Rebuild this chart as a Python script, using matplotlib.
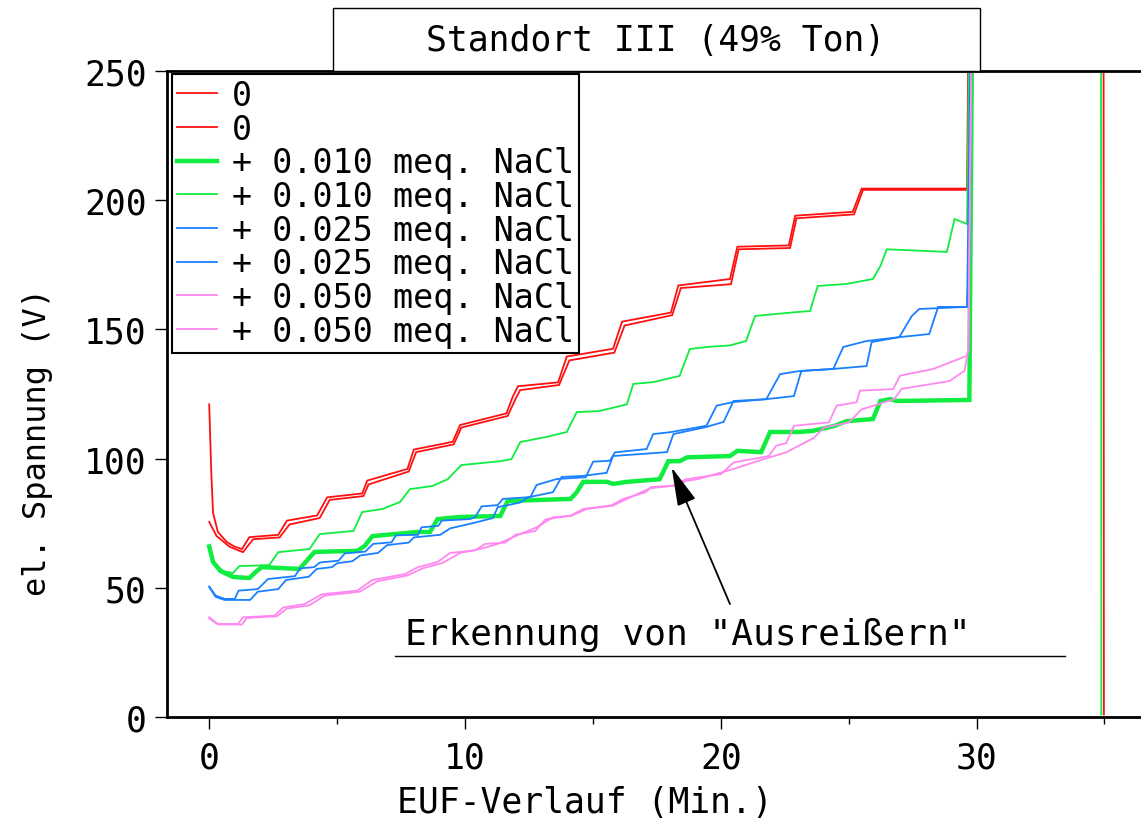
import matplotlib
matplotlib.use("Agg")
import matplotlib.pyplot as plt
from matplotlib.patches import Rectangle
from matplotlib.ticker import MultipleLocator, FixedLocator

plt.rcParams['font.family'] = ['DejaVu Sans Mono', 'DejaVu Sans']

# ---- data: EUF voltage traces (time in min, voltage in V) ----
red_a_t = [0, 0.08, 0.15, 0.34, 0.69, 0.98, 1.28, 1.57, 2.70, 3.04, 4.22, 4.61, 5.98, 6.18,
           7.75, 8.0, 9.52, 9.81, 11.62, 11.87, 12.07, 13.64, 13.98, 15.79, 16.14, 18.05,
           18.34, 20.36, 20.65, 22.66, 22.91, 25.16, 25.51, 29.63, 29.80, 34.96, 34.98]
red_a_v = [121, 95, 79, 71.6, 67.7, 66, 65, 69.6, 70.5, 76, 78, 85, 86.5, 91.5,
           96, 103.5, 106.5, 113, 117.5, 124, 128, 129.5, 139.5, 142.5, 153, 156.5,
           167, 169.5, 182, 182.5, 194, 195.5, 204.5, 204.5, 400, 400, 1]

red_b_t = [0, 0.29, 0.81, 1.32, 1.72, 2.75, 3.14, 4.32, 4.71, 6.03, 6.23, 7.80, 8.09, 9.56,
           9.86, 11.67, 11.97, 12.16, 13.68, 14.08, 15.84, 16.24, 18.10, 18.44, 20.40,
           20.70, 22.71, 22.96, 25.21, 25.56, 29.67, 29.82]
red_b_v = [75.5, 70, 65.8, 63.8, 68.8, 69.5, 74.5, 77, 84, 85.5, 90, 95, 102.5, 105.5,
           112, 116.5, 123, 126.5, 128.5, 138, 141, 151.5, 155.5, 166, 167.5,
           181, 181.5, 193, 194.5, 204, 204, 400]

green_thick_t = [0, 0.15, 0.44, 0.93, 1.57, 1.86, 2.06, 3.53, 4.12, 5.79, 6.08, 6.38, 8.14,
                 8.63, 8.93, 9.81, 11.38, 11.67, 14.13, 14.37, 14.62, 15.55, 15.79, 16.33,
                 17.61, 17.95, 18.39, 18.69, 20.36, 20.65, 21.58, 21.93, 23.05, 23.59,
                 24.43, 24.92, 25.95, 26.24, 26.63, 26.88, 29.72, 29.92]
green_thick_v = [66, 60, 56.5, 54.2, 53.8, 56.5, 58, 57.3, 63.9, 64.3, 66.2, 70, 71.6,
                 71.6, 76.6, 77.4, 77.8, 83.6, 84.4, 87, 91, 91, 90.2, 91,
                 92, 99, 99, 100.5, 101, 103, 102.5, 110.3, 110.3, 110.7,
                 112.6, 114.5, 115.3, 122.3, 123, 122.3, 122.7, 400]

green_thin_t = [0, 0.15, 0.54, 0.93, 1.18, 2.35, 2.70, 3.92, 4.32, 5.64, 5.98, 6.77, 7.46,
                7.85, 8.73, 9.32, 9.86, 11.38, 11.82, 12.16, 13.19, 13.98, 14.37, 15.25,
                16.33, 16.58, 17.36, 18.39, 18.79, 19.47, 20.36, 20.99, 21.34, 22.96,
                23.49, 23.79, 24.92, 25.95, 26.24, 26.49, 28.84, 29.14, 29.63, 29.87,
                34.86, 34.88]
green_thin_v = [66, 60, 56.5, 55.7, 58.4, 58.8, 63.8, 65, 70.8, 72, 79.3, 80.5, 83.2,
                88.2, 89.4, 92, 97.5, 99, 99.8, 106.4, 108.4, 110.3, 118, 118.4,
                121, 128.9, 129.6, 132, 142.4, 143.2, 143.8, 145.5, 155.2, 156.7,
                157.1, 166.8, 167.6, 169.5, 174.5, 181, 180, 192.7, 190.8, 400,
                400, 1]

blue_a_t = [0, 0.25, 0.6, 1.0, 1.15, 1.9, 2.3, 3.35, 3.55, 4.1, 4.33, 5.06, 5.3, 6.1, 6.41,
            7.13, 7.3, 8.17, 8.3, 8.96, 9.09, 10.2, 10.4, 10.65, 11.28, 11.48, 12.56, 12.8,
            13.59, 14.72, 15.01, 15.67, 15.86, 17.10, 17.36, 18.01, 19.44, 19.84, 20.50,
            21.78, 22.32, 23.09, 24.40, 24.79, 25.70, 26.98, 27.47, 27.76, 29.63, 29.72,
            29.95]
blue_a_v = [50.5, 47, 45.7, 45.7, 48.9, 49.5, 53.4, 54.5, 57.5, 58, 59.8, 60.5, 63.3, 64, 67,
            67.6, 70.3, 70.5, 73.4, 74, 76, 76.6, 77.4, 81.5, 82, 84.4, 85.1, 89.8,
            92.1, 92.8, 98.8, 99.2, 102.4, 103.7, 109.5, 110.2, 112.7, 120.5, 121.9,
            123, 132.7, 133.9, 134.7, 143.2, 145.5, 147, 155.2, 157.9, 158.7, 176,
            400]

blue_b_t = [0, 0.25, 0.6, 1.6, 1.9, 2.7, 3.0, 3.9, 4.2, 4.8, 5.0, 5.6, 5.9, 6.6, 6.95, 7.8,
            8.0, 9.03, 9.42, 10.3, 11.09, 11.28, 12.16, 12.46, 13.44, 13.78, 14.62, 15.54,
            15.79, 17.9, 18.15, 19.42, 20.11, 20.5, 21.78, 22.86, 23.15, 24.4, 25.7, 25.9,
            26.98, 28.15, 28.5, 29.63, 29.95]
blue_b_v = [50.3, 46.5, 45.3, 45.3, 48.5, 49.5, 53, 54.3, 57.3, 58, 59.5, 60.3, 62.5, 63.5,
            66.5, 67.5, 69.5, 70.5, 73, 75, 77, 81.2, 83, 85, 87, 92.9, 93.3, 94.5,
            101, 102.5, 109.5, 112.2, 114.2, 122.3, 123, 124.2, 133.9, 134.7, 135.8, 145.1,
            147, 148.2, 158.7, 158.7, 400]

pink_a_t = [0, 0.34, 1.13, 1.32, 2.55, 2.89, 3.73, 4.22, 4.41, 5.79, 6.38, 7.65, 8.14, 8.93,
            9.42, 10.4, 10.79, 11.58, 11.97, 12.75, 13.15, 14.13, 14.62, 15.7, 16.19, 17.07,
            17.27, 18.15, 18.64, 20.01, 20.5, 21.88, 22.17, 22.56, 22.86, 24.23, 24.53,
            25.31, 25.44, 26.74, 27.01, 28.31, 29.63, 29.68, 29.95]
pink_a_v = [38.6, 36, 36, 38.6, 39.2, 42.4, 43.7, 46.5, 47.5, 48.9, 53, 55.3, 57.9, 60,
            63.5, 64.5, 67, 67.5, 70.5, 72, 76.5, 77.9, 80.5, 81.8, 84.4, 87,
            89, 89.5, 92, 94, 98.5, 101, 105, 106, 112.7, 114, 120.5,
            121.8, 126.3, 126.9, 132.1, 134.7, 139.8, 142.4, 400]

pink_b_t = [0, 0.34, 1.28, 1.47, 2.65, 3.04, 3.92, 4.51, 5.89, 6.57, 7.75, 8.34, 9.12, 9.81,
            10.6, 11.28, 12.02, 12.8, 13.45, 14.17, 14.75, 15.79, 16.32, 17.23, 18.15,
            18.67, 19.13, 20.5, 21.58, 22.56, 22.86, 23.64, 24.03, 25.01, 25.5, 26.78,
            27.07, 28.94, 29.53, 29.68, 29.95]
pink_b_v = [38.2, 35.8, 35.8, 38.3, 39, 42, 43.2, 47, 48.5, 52.5, 54.8, 57.5, 59.6, 63.5,
            65, 67, 70.2, 73.4, 77.3, 77.9, 80.5, 81.8, 84.4, 88.5, 89.5,
            91.4, 92.1, 96, 99.5, 102.4, 104, 108, 112, 114, 119, 123,
            127, 130, 134, 142, 400]

labels = ["0", "0",
          "+ 0.010 meq. NaCl", "+ 0.010 meq. NaCl",
          "+ 0.025 meq. NaCl", "+ 0.025 meq. NaCl",
          "+ 0.050 meq. NaCl", "+ 0.050 meq. NaCl"]

x_ticks = [0, 10, 20, 30]
y_ticks = [0, 50, 100, 150, 200, 250]

RED = "#ff1010"
GREEN = "#10ec40"
BLUE = "#1a80ff"
PINK = "#ff88f0"

series = [
    (red_a_t, red_a_v, RED, 1.3),
    (red_b_t, red_b_v, RED, 1.3),
    (green_thick_t, green_thick_v, GREEN, 3.2),
    (green_thin_t, green_thin_v, GREEN, 1.3),
    (blue_a_t, blue_a_v, BLUE, 1.3),
    (blue_b_t, blue_b_v, BLUE, 1.3),
    (pink_a_t, pink_a_v, PINK, 1.3),
    (pink_b_t, pink_b_v, PINK, 1.3),
]

W, H = 1141, 820
fig = plt.figure(figsize=(W / 100, H / 100), dpi=100)
ax = fig.add_axes([167 / W, 1 - 718 / H, 1 - 167 / W, (718 - 72) / H])

handles = []
for (t, v, c, lw), lab in zip(series, labels):
    h, = ax.plot(t, v, color=c, lw=lw, label=lab, solid_joinstyle='miter')
    handles.append(h)

ax.set_xlim(-1.65, 36.43)
ax.set_ylim(0, 250)

ax.xaxis.set_major_locator(FixedLocator(x_ticks))
ax.xaxis.set_minor_locator(MultipleLocator(5))
ax.yaxis.set_major_locator(FixedLocator(y_ticks))

ax.tick_params(axis='both', which='major', direction='out', length=8.6, width=1.0,
               labelsize=25, colors='black')
ax.tick_params(axis='x', which='major', pad=8)
ax.tick_params(axis='y', which='major', pad=6)
ax.tick_params(axis='x', which='minor', direction='out', length=5, width=1.0)

for s in ['left', 'bottom', 'top']:
    ax.spines[s].set_linewidth(2.0)
    ax.spines[s].set_color('black')
ax.spines['right'].set_visible(False)

leg = ax.legend(handles=handles, loc='upper left',
                bbox_to_anchor=(5 / (W - 167), 1 - 3 / (718 - 72)),
                borderaxespad=0, fontsize=24, handlelength=1.2, handletextpad=0.45,
                labelspacing=0.02, borderpad=0.15, fancybox=False, framealpha=1,
                edgecolor='black')
leg.get_frame().set_linewidth(1.5)

# annotation with underline and arrow
ax.text(7.65, 28.3, 'Erkennung von "Ausreißern"', fontsize=26, va='baseline', ha='left')
ax.plot([7.26, 33.47], [23.6, 23.6], color='black', lw=1.0)
ax.annotate('', xy=(18.08, 96.6), xytext=(20.36, 43.7),
            arrowprops=dict(arrowstyle='-|>,head_length=1.2,head_width=0.3',
                            mutation_scale=20, color='black', lw=1.3,
                            shrinkA=0, shrinkB=0))

# title box sitting on the top spine
fig.patches.append(Rectangle((333 / W, 1 - 72 / H), 647 / W, 63 / H,
                             transform=fig.transFigure, facecolor='white',
                             edgecolor='black', lw=1.0, zorder=5))
fig.text(656 / W, 1 - 41 / H, "Standort III (49% Ton)", fontsize=25,
         ha='center', va='center', zorder=6)

fig.text(38 / W, 1 - 442 / H, "el. Spannung (V)", fontsize=23, rotation=90,
         ha='center', va='center')
fig.text(585 / W, 1 - 803 / H, "EUF-Verlauf (Min.)", fontsize=25,
         ha='center', va='center')

fig.savefig("out.png", dpi=100)
